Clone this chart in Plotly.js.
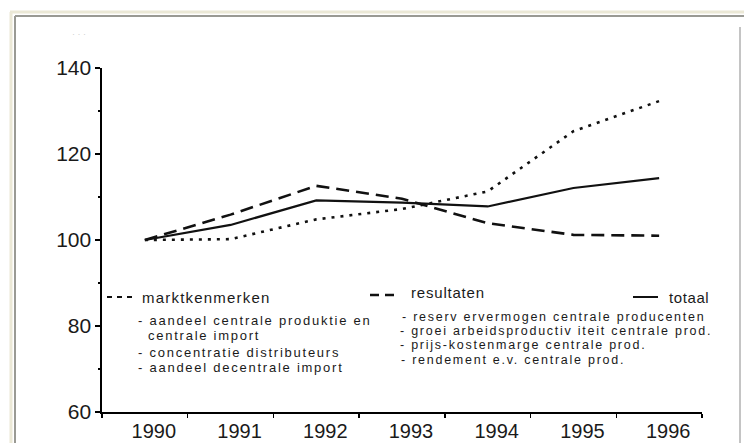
<!DOCTYPE html>
<html>
<head>
<meta charset="utf-8">
<script src="https://cdn.plot.ly/plotly-3.0.1.min.js"></script>
<style>
html,body{margin:0;padding:0;background:#fff;}
#chart{width:744px;height:443px;}
</style>
</head>
<body>
<div id="chart"></div>
<script>
// ---- data ----
var years = ['1990', '1991', '1992', '1993', '1994', '1995', '1996'];
var marktkenmerken = [100, 100.2, 104.8, 107.2, 111.3, 125.3, 132.3];
var resultaten = [100, 105.9, 112.6, 109.6, 103.9, 101.2, 101.0];
var totaal = [100, 103.5, 109.2, 108.7, 107.8, 112.1, 114.4];
var yTickVals = [60, 80, 100, 120, 140];
var yTickText = ['60', '80', '100', '120', '140'];

var legendMain = ['marktkenmerken', 'resultaten', 'totaal'];
var legendLeft = ['- aandeel centrale produktie en', 'centrale import', '- concentratie distributeurs', '- aandeel decentrale import'];
var legendRight = ['- reserv ervermogen centrale producenten', '- groei arbeidsproductiv iteit centrale prod.', '- prijs-kostenmarge centrale prod.', '- rendement e.v. centrale prod.'];

// ---- geometry helpers (pixel -> paper) ----
var W = 744, H = 443;
var M = {l: 102, r: 42, t: 68, b: 31};
var PW = W - M.l - M.r, PH = H - M.t - M.b;
function px(x) { return (x - M.l) / PW; }
function py(y) { return (H - M.b - y) / PH; }
function sp(t, ls) { return '<span style="letter-spacing:' + ls + 'px">' + t + '</span>'; }

var ink = '#111';
var traces = [
  {x: years, y: marktkenmerken, name: legendMain[0], type: 'scatter', mode: 'lines',
   line: {color: ink, width: 2.6, dash: '3px,6px'}},
  {x: years, y: resultaten, name: legendMain[1], type: 'scatter', mode: 'lines',
   line: {color: ink, width: 2.6, dash: '13px,7px'}},
  {x: years, y: totaal, name: legendMain[2], type: 'scatter', mode: 'lines',
   line: {color: ink, width: 2.2}}
];

var txtFont = {family: 'Liberation Sans, Arial, sans-serif', size: 13, color: '#1a1a1a'};
var txtFontR = {family: 'Liberation Sans, Arial, sans-serif', size: 12.5, color: '#1a1a1a'};
var mainFont = {family: 'Liberation Sans, Arial, sans-serif', size: 15, color: '#1a1a1a'};

var annotations = [];
function ann(text, x, y, font, ls) {
  annotations.push({text: sp(text, ls), x: px(x), y: py(y), xref: 'paper', yref: 'paper',
    xanchor: 'left', yanchor: 'middle', showarrow: false, font: font});
}
ann(legendMain[0], 140, 297, mainFont, 1.2);
ann(legendMain[1], 409, 292, mainFont, 0.8);
ann(legendMain[2], 667, 297, mainFont, 0.6);
var leftX = [136, 146, 136, 136], leftY = [320, 335, 352, 367];
for (var i = 0; i < legendLeft.length; i++) ann(legendLeft[i], leftX[i], leftY[i], txtFont, 1.75);
var rightX = [400, 398, 398, 399], rightY = [317, 331, 345, 360];
for (var j = 0; j < legendRight.length; j++) ann(legendRight[j], rightX[j], rightY[j], txtFontR, 1.75);
// faint marks at top left (cut-off text in the original)
annotations.push({text: '· · ·', x: px(70), y: py(27), xref: 'paper', yref: 'paper', showarrow: false,
  font: {family: 'Liberation Sans, Arial, sans-serif', size: 9, color: '#cfcfcf'}});

var shapes = [
  // window frame
  {type: 'line', xref: 'paper', yref: 'paper', x0: px(10), x1: px(744), y0: py(12), y1: py(12), line: {color: '#ebe8d6', width: 3}},
  {type: 'line', xref: 'paper', yref: 'paper', x0: px(11), x1: px(11), y0: py(12), y1: py(443), line: {color: '#ebe8d6', width: 3}},
  {type: 'line', xref: 'paper', yref: 'paper', x0: px(15), x1: px(744), y0: py(16), y1: py(16), line: {color: '#9a9a94', width: 2}},
  {type: 'line', xref: 'paper', yref: 'paper', x0: px(15), x1: px(15), y0: py(16), y1: py(443), line: {color: '#9a9a94', width: 2}},
  {type: 'line', xref: 'paper', yref: 'paper', x0: px(740), x1: px(740), y0: py(27), y1: py(443), line: {color: '#c4c4c4', width: 2}},
  // legend samples
  {type: 'line', xref: 'paper', yref: 'paper', x0: px(107), x1: px(136), y0: py(297), y1: py(297), line: {color: ink, width: 2, dash: '5px,5px'}},
  {type: 'line', xref: 'paper', yref: 'paper', x0: px(370), x1: px(395), y0: py(295), y1: py(295), line: {color: ink, width: 2.5, dash: '9px,6px'}},
  {type: 'line', xref: 'paper', yref: 'paper', x0: px(633), x1: px(658), y0: py(297), y1: py(297), line: {color: ink, width: 2}}
];

var tickFont = {family: 'Liberation Sans, Arial, sans-serif', size: 20, color: '#1a1a1a'};
var layout = {
  width: W, height: H, margin: M,
  paper_bgcolor: '#fff', plot_bgcolor: '#fff',
  showlegend: false,
  xaxis: {type: 'category', range: [-0.5, 6.5], tickson: 'boundaries', ticks: 'outside', ticklen: 4,
    tickwidth: 1.5, tickcolor: '#000', showline: true, linewidth: 2, linecolor: '#000',
    showgrid: false, zeroline: false, tickfont: tickFont, ticklabelshift: 9, fixedrange: true},
  yaxis: {range: [60, 140], tickmode: 'array', tickvals: yTickVals, ticktext: yTickText,
    ticks: 'outside', ticklen: 5, tickwidth: 1.5, tickcolor: '#000', showline: true, linewidth: 1.6,
    linecolor: '#000', showgrid: false, zeroline: false, tickfont: {family: 'Liberation Sans, Arial, sans-serif', size: 21, color: '#1a1a1a'}, fixedrange: true,
    minor: {tickmode: 'linear', tick0: 60, dtick: 10, ticks: 'outside', ticklen: 2, tickcolor: '#000', tickwidth: 1.5, showgrid: false}},
  shapes: shapes,
  annotations: annotations
};

Plotly.newPlot('chart', traces, layout, {displayModeBar: false, staticPlot: true});
</script>
</body>
</html>
